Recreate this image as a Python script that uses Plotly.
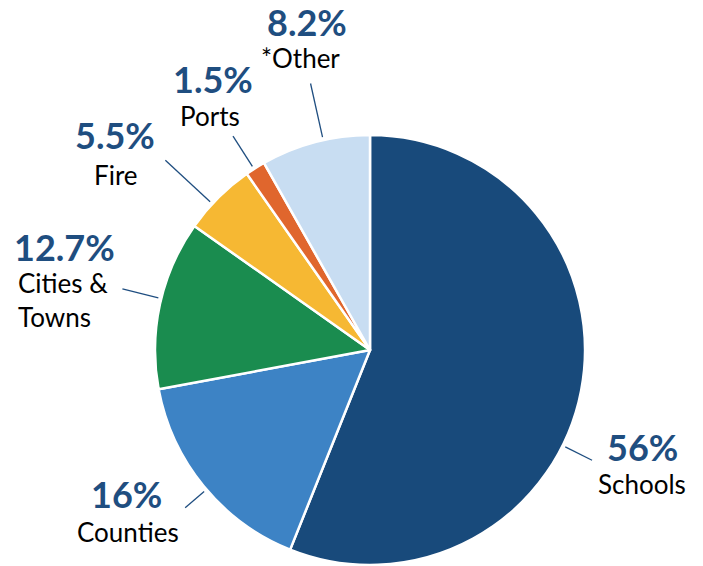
import math
import plotly.graph_objects as go

# ---- data ----
categories = ["Schools", "Counties", "Cities &<br>Towns", "Fire", "Ports", "*Other"]
values = [56, 16, 12.7, 5.5, 1.5, 8.2]
pct_labels = ["56%", "16%", "12.7%", "5.5%", "1.5%", "8.2%"]
colors = ["#184A7B", "#3D83C5", "#1A8C4F", "#F6B833", "#E0662D", "#C8DDF2"]

# ---- layout (pixels) ----
W, H = 703, 566
CX, CY, R = 370, 350, 215
leader_nudge = [15.5, -1.1, 1.5, -2.3, -0.4, 2.2]      # degrees
leader_out = [1.153, 1.13, 1.186, 1.298, 1.181, 1.27]
pct_off = [(50, -13), (-59, -14), (-58, -42), (-50, -25), (-20, -57), (-4, -61)]
name_off = [(50, 24), (-57, 24), (-106, 11), (-49, 15), (-23, -20), (-10, -25)]
name_anchor = ["center", "center", "left", "center", "center", "center"]

BLUE = "#1F4E80"

fig = go.Figure(go.Pie(
    labels=[c.replace("<br>", " ") for c in categories],
    values=values,
    sort=False,
    direction="clockwise",
    rotation=0,
    textinfo="none",
    hoverinfo="label+percent",
    marker=dict(colors=colors, line=dict(color="white", width=2.5)),
    domain=dict(x=[(CX - R) / W, (CX + R) / W],
                y=[(H - CY - R) / H, (H - CY + R) / H]),
    showlegend=False,
))

def px(x, y):
    return x / W, 1 - y / H

def polar(theta_deg, r):
    t = math.radians(theta_deg)
    return CX + r * math.sin(t), CY - r * math.cos(t)

total = sum(values)
cum = 0.0
shapes, annotations = [], []
for i, v in enumerate(values):
    mid = (cum + v / 2) / total * 360
    cum += v
    ang = mid + leader_nudge[i]
    x0, y0 = polar(ang, R * 1.014)
    x1, y1 = polar(ang, R * leader_out[i])
    a0, b0 = px(x0, y0)
    a1, b1 = px(x1, y1)
    shapes.append(dict(type="line", xref="paper", yref="paper",
                       x0=a0, y0=b0, x1=a1, y1=b1,
                       line=dict(color=BLUE, width=1.3)))
    pxp, pyp = px(x1 + pct_off[i][0], y1 + pct_off[i][1])
    annotations.append(dict(text=f"<b>{pct_labels[i]}</b>", x=pxp, y=pyp,
                            xref="paper", yref="paper", showarrow=False,
                            xanchor="center", yanchor="middle",
                            font=dict(family="Lato", size=36, color=BLUE)))
    nxp, nyp = px(x1 + name_off[i][0], y1 + name_off[i][1])
    annotations.append(dict(text=categories[i], x=nxp, y=nyp,
                            xref="paper", yref="paper", showarrow=False,
                            xanchor=name_anchor[i], yanchor="middle",
                            align="left" if name_anchor[i] == "left" else "center",
                            font=dict(family="Lato", size=26, color="#000000")))

fig.update_layout(
    width=W, height=H,
    margin=dict(l=0, r=0, t=0, b=0),
    paper_bgcolor="white", plot_bgcolor="white",
    shapes=shapes, annotations=annotations,
)

fig.write_html("out.html", config={"displayModeBar": False},
               post_script="document.body.style.margin='0';document.body.style.padding='0';")
